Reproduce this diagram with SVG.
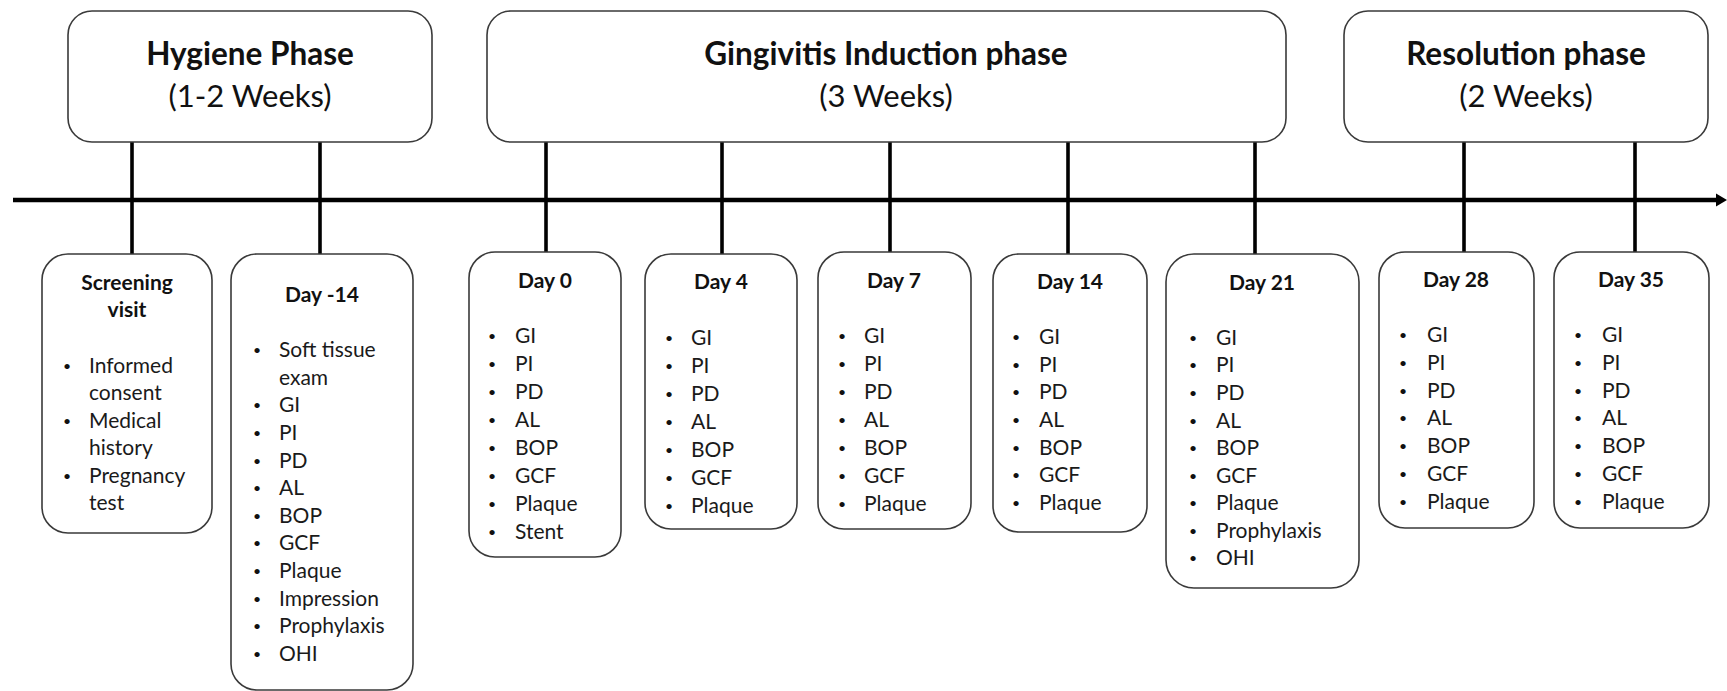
<svg xmlns="http://www.w3.org/2000/svg" width="1727" height="691" viewBox="0 0 1727 691">
<style>
.box{fill:#fff;stroke:#3a3a3a;stroke-width:1.6}
.conn{stroke:#000;stroke-width:3.6;fill:none}
.axis{stroke:#000;stroke-width:4.6;fill:none}
.pt{font-family:Lato,"Open Sans",sans-serif;font-weight:bold;font-size:31.5px;fill:#111;text-anchor:middle}
.ps{font-family:Lato,"Open Sans",sans-serif;font-size:31px;fill:#111;text-anchor:middle}
.dt{font-family:Lato,"Open Sans",sans-serif;font-weight:bold;font-size:21px;fill:#111;text-anchor:middle}
.it{font-family:Lato,"Open Sans",sans-serif;font-size:21px;fill:#1a1a1a}
.bu{font-family:Lato,"Open Sans",sans-serif;font-size:14px;fill:#111;text-anchor:middle}
</style>
<rect width="1727" height="691" fill="#fff"/>
<g id="connectors">
<line class="axis" x1="13" y1="200" x2="1718" y2="200"/>
<polygon points="1716,193.5 1727,200 1716,206.5" fill="#000"/>
<line class="conn" x1="132" y1="142" x2="132" y2="254"/>
<line class="conn" x1="320" y1="142" x2="320" y2="254"/>
<line class="conn" x1="546" y1="142" x2="546" y2="252"/>
<line class="conn" x1="722" y1="142" x2="722" y2="254"/>
<line class="conn" x1="890" y1="142" x2="890" y2="252"/>
<line class="conn" x1="1068" y1="142" x2="1068" y2="254"/>
<line class="conn" x1="1255" y1="142" x2="1255" y2="254"/>
<line class="conn" x1="1464" y1="142" x2="1464" y2="252"/>
<line class="conn" x1="1635" y1="142" x2="1635" y2="252"/>
</g>
<g id="phase-hygiene">
<rect class="box" x="68" y="11" width="364" height="131" rx="24"/>
<text class="pt" x="250" y="65">Hygiene Phase</text>
<text class="ps" x="250" y="107">(1-2 Weeks)</text>
</g>
<g id="phase-gingivitis">
<rect class="box" x="487" y="11" width="799" height="131" rx="24"/>
<text class="pt" x="886" y="65">Gingivitis Induction phase</text>
<text class="ps" x="886" y="107">(3 Weeks)</text>
</g>
<g id="phase-resolution">
<rect class="box" x="1344" y="11" width="364" height="131" rx="24"/>
<text class="pt" x="1526" y="65">Resolution phase</text>
<text class="ps" x="1526" y="107">(2 Weeks)</text>
</g>
<g id="screening">
<rect class="box" x="42" y="254" width="170" height="279" rx="26"/>
<text class="dt" x="127" y="290">Screening</text>
<text class="dt" x="127" y="317">visit</text>
<text class="bu" x="67" y="371">•</text><text class="it" x="89" y="373">Informed</text>
<text class="it" x="89" y="400">consent</text>
<text class="bu" x="67" y="426">•</text><text class="it" x="89" y="428">Medical</text>
<text class="it" x="89" y="455">history</text>
<text class="bu" x="67" y="481">•</text><text class="it" x="89" y="483">Pregnancy</text>
<text class="it" x="89" y="510">test</text>
</g>
<g id="day-minus14">
<rect class="box" x="231" y="254" width="182" height="436" rx="26"/>
<text class="dt" x="322" y="302">Day -14</text>
<text class="bu" x="257" y="355">•</text><text class="it" x="279" y="357">Soft tissue</text>
<text class="it" x="279" y="385">exam</text>
<text class="bu" x="257" y="410">•</text><text class="it" x="279" y="412">GI</text>
<text class="bu" x="257" y="438">•</text><text class="it" x="279" y="440">PI</text>
<text class="bu" x="257" y="466">•</text><text class="it" x="279" y="468">PD</text>
<text class="bu" x="257" y="493">•</text><text class="it" x="279" y="495">AL</text>
<text class="bu" x="257" y="521">•</text><text class="it" x="279" y="523">BOP</text>
<text class="bu" x="257" y="548">•</text><text class="it" x="279" y="550">GCF</text>
<text class="bu" x="257" y="576">•</text><text class="it" x="279" y="578">Plaque</text>
<text class="bu" x="257" y="604">•</text><text class="it" x="279" y="606">Impression</text>
<text class="bu" x="257" y="631">•</text><text class="it" x="279" y="633">Prophylaxis</text>
<text class="bu" x="257" y="659">•</text><text class="it" x="279" y="661">OHI</text>
</g>
<g id="day0">
<rect class="box" x="469" y="252" width="152" height="305" rx="26"/>
<text class="dt" x="545" y="288">Day 0</text>
<text class="bu" x="492" y="341">•</text><text class="it" x="515" y="343">GI</text>
<text class="bu" x="492" y="369">•</text><text class="it" x="515" y="371">PI</text>
<text class="bu" x="492" y="397">•</text><text class="it" x="515" y="399">PD</text>
<text class="bu" x="492" y="425">•</text><text class="it" x="515" y="427">AL</text>
<text class="bu" x="492" y="453">•</text><text class="it" x="515" y="455">BOP</text>
<text class="bu" x="492" y="481">•</text><text class="it" x="515" y="483">GCF</text>
<text class="bu" x="492" y="509">•</text><text class="it" x="515" y="511">Plaque</text>
<text class="bu" x="492" y="537">•</text><text class="it" x="515" y="539">Stent</text>
</g>
<g id="day4">
<rect class="box" x="645" y="254" width="152" height="275" rx="26"/>
<text class="dt" x="721" y="289">Day 4</text>
<text class="bu" x="669" y="343">•</text><text class="it" x="691" y="345">GI</text>
<text class="bu" x="669" y="371">•</text><text class="it" x="691" y="373">PI</text>
<text class="bu" x="669" y="399">•</text><text class="it" x="691" y="401">PD</text>
<text class="bu" x="669" y="427">•</text><text class="it" x="691" y="429">AL</text>
<text class="bu" x="669" y="455">•</text><text class="it" x="691" y="457">BOP</text>
<text class="bu" x="669" y="483">•</text><text class="it" x="691" y="485">GCF</text>
<text class="bu" x="669" y="511">•</text><text class="it" x="691" y="513">Plaque</text>
</g>
<g id="day7">
<rect class="box" x="818" y="252" width="153" height="277" rx="26"/>
<text class="dt" x="894" y="288">Day 7</text>
<text class="bu" x="842" y="341">•</text><text class="it" x="864" y="343">GI</text>
<text class="bu" x="842" y="369">•</text><text class="it" x="864" y="371">PI</text>
<text class="bu" x="842" y="397">•</text><text class="it" x="864" y="399">PD</text>
<text class="bu" x="842" y="425">•</text><text class="it" x="864" y="427">AL</text>
<text class="bu" x="842" y="453">•</text><text class="it" x="864" y="455">BOP</text>
<text class="bu" x="842" y="481">•</text><text class="it" x="864" y="483">GCF</text>
<text class="bu" x="842" y="509">•</text><text class="it" x="864" y="511">Plaque</text>
</g>
<g id="day14">
<rect class="box" x="993" y="254" width="154" height="278" rx="26"/>
<text class="dt" x="1070" y="289">Day 14</text>
<text class="bu" x="1016" y="342">•</text><text class="it" x="1039" y="344">GI</text>
<text class="bu" x="1016" y="370">•</text><text class="it" x="1039" y="372">PI</text>
<text class="bu" x="1016" y="397">•</text><text class="it" x="1039" y="399">PD</text>
<text class="bu" x="1016" y="425">•</text><text class="it" x="1039" y="427">AL</text>
<text class="bu" x="1016" y="453">•</text><text class="it" x="1039" y="455">BOP</text>
<text class="bu" x="1016" y="480">•</text><text class="it" x="1039" y="482">GCF</text>
<text class="bu" x="1016" y="508">•</text><text class="it" x="1039" y="510">Plaque</text>
</g>
<g id="day21">
<rect class="box" x="1166" y="254" width="193" height="334" rx="28"/>
<text class="dt" x="1262" y="290">Day 21</text>
<text class="bu" x="1193" y="343">•</text><text class="it" x="1216" y="345">GI</text>
<text class="bu" x="1193" y="370">•</text><text class="it" x="1216" y="372">PI</text>
<text class="bu" x="1193" y="398">•</text><text class="it" x="1216" y="400">PD</text>
<text class="bu" x="1193" y="426">•</text><text class="it" x="1216" y="428">AL</text>
<text class="bu" x="1193" y="453">•</text><text class="it" x="1216" y="455">BOP</text>
<text class="bu" x="1193" y="481">•</text><text class="it" x="1216" y="483">GCF</text>
<text class="bu" x="1193" y="508">•</text><text class="it" x="1216" y="510">Plaque</text>
<text class="bu" x="1193" y="536">•</text><text class="it" x="1216" y="538">Prophylaxis</text>
<text class="bu" x="1193" y="563">•</text><text class="it" x="1216" y="565">OHI</text>
</g>
<g id="day28">
<rect class="box" x="1379" y="252" width="155" height="276" rx="26"/>
<text class="dt" x="1456" y="287">Day 28</text>
<text class="bu" x="1403" y="340">•</text><text class="it" x="1427" y="342">GI</text>
<text class="bu" x="1403" y="368">•</text><text class="it" x="1427" y="370">PI</text>
<text class="bu" x="1403" y="396">•</text><text class="it" x="1427" y="398">PD</text>
<text class="bu" x="1403" y="423">•</text><text class="it" x="1427" y="425">AL</text>
<text class="bu" x="1403" y="451">•</text><text class="it" x="1427" y="453">BOP</text>
<text class="bu" x="1403" y="479">•</text><text class="it" x="1427" y="481">GCF</text>
<text class="bu" x="1403" y="507">•</text><text class="it" x="1427" y="509">Plaque</text>
</g>
<g id="day35">
<rect class="box" x="1554" y="252" width="155" height="276" rx="26"/>
<text class="dt" x="1631" y="287">Day 35</text>
<text class="bu" x="1578" y="340">•</text><text class="it" x="1602" y="342">GI</text>
<text class="bu" x="1578" y="368">•</text><text class="it" x="1602" y="370">PI</text>
<text class="bu" x="1578" y="396">•</text><text class="it" x="1602" y="398">PD</text>
<text class="bu" x="1578" y="423">•</text><text class="it" x="1602" y="425">AL</text>
<text class="bu" x="1578" y="451">•</text><text class="it" x="1602" y="453">BOP</text>
<text class="bu" x="1578" y="479">•</text><text class="it" x="1602" y="481">GCF</text>
<text class="bu" x="1578" y="507">•</text><text class="it" x="1602" y="509">Plaque</text>
</g>
</svg>
